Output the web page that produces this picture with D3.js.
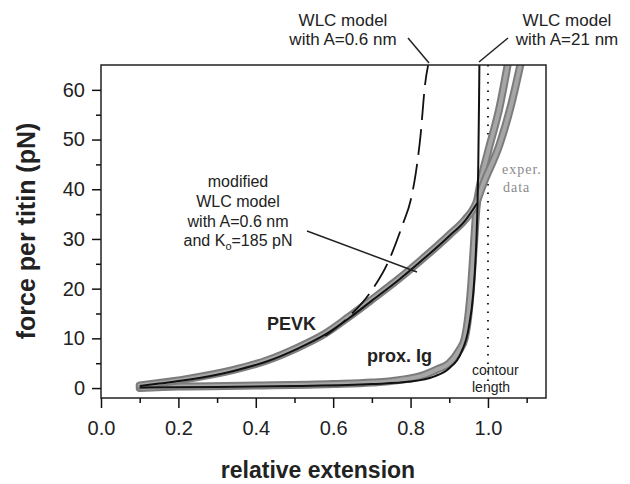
<!DOCTYPE html>
<html>
<head>
<meta charset="utf-8">
<script src="https://cdn.jsdelivr.net/npm/d3@7"></script>
<style>
  body { margin: 0; background: #fff; }
  svg text { font-family: Arial, "Liberation Sans", sans-serif; }
</style>
</head>
<body>
<div id="chart"></div>
<script>
// experimental data, PEVK segment (relative extension, force in pN)
var pevkExt   = [0.10, 0.15, 0.22, 0.34, 0.43, 0.51, 0.58, 0.64, 0.70, 0.77, 0.84, 0.90, 0.94, 0.966, 0.99, 1.03, 1.06, 1.085];
var pevkForce = [0.5, 1.0, 1.8, 3.6, 5.6, 8.2, 11.0, 14.3, 17.8, 22.0, 26.6, 30.8, 33.8, 36.6, 41.5, 49.0, 57.0, 65.5];

// experimental data, proximal Ig segment
var igExt   = [0.10, 0.20, 0.40, 0.60, 0.70, 0.77, 0.83, 0.87, 0.90, 0.925, 0.94, 0.95, 0.957, 0.963, 0.97, 0.98, 1.00, 1.03, 1.052];
var igForce = [0.0, 0.3, 0.5, 0.8, 1.1, 1.6, 2.5, 3.8, 5.0, 7.5, 10.0, 15.0, 21.0, 28.0, 36.0, 41.0, 47.5, 56.5, 65.5];

// WLC model, A = 0.6 nm (dashed)
var wlc06Ext   = [0.58, 0.64, 0.70, 0.74, 0.78, 0.80, 0.813, 0.826, 0.837, 0.848];
var wlc06Force = [10.5, 14.3, 19.7, 25.0, 33.0, 37.7, 43.0, 51.0, 60.8, 66.0];

// WLC model, A = 21 nm (thin solid)
var wlc21Ext   = [0.10, 0.30, 0.50, 0.70, 0.80, 0.86, 0.90, 0.93, 0.95, 0.962, 0.968, 0.972, 0.975, 0.977, 0.978];
var wlc21Force = [0.1, 0.2, 0.4, 0.8, 1.3, 2.3, 4.0, 7.0, 12.0, 19.0, 26.0, 34.0, 45.0, 58.0, 66.0];

// modified WLC model, A = 0.6 nm, Ko = 185 pN
var modExt   = [0.10, 0.15, 0.22, 0.34, 0.43, 0.51, 0.58, 0.64, 0.70, 0.77, 0.84, 0.90, 0.94, 0.972];
var modForce = [0.4, 0.9, 1.6, 3.4, 5.4, 8.0, 10.8, 14.0, 17.6, 21.8, 26.4, 30.6, 33.6, 37.2];

var yMajor = [0, 10, 20, 30, 40, 50, 60];
var yMinor = [5, 15, 25, 35, 45, 55];
var xMajor = [0.0, 0.2, 0.4, 0.6, 0.8, 1.0];
var xMinor = [0.1, 0.3, 0.5, 0.7, 0.9, 1.1];

var width = 630, height = 484;

var svg = d3.select("#chart").append("svg")
  .attr("width", width)
  .attr("height", height);

var x = d3.scaleLinear().domain([0, 1.15]).range([101, 546]);
var y = d3.scaleLinear().domain([-2, 65]).range([398, 65]);

function pts(xs, ys) { return xs.map(function(v, i) { return [v, ys[i]]; }); }

var line = d3.line()
  .x(function(d) { return x(d[0]); })
  .y(function(d) { return y(d[1]); })
  .curve(d3.curveMonotoneX);

svg.append("clipPath").attr("id", "plotclip")
  .append("rect")
  .attr("x", 101).attr("y", 65)
  .attr("width", 445).attr("height", 333);

var plot = svg.append("g").attr("clip-path", "url(#plotclip)");

// contour length (dotted)
plot.append("line")
  .attr("x1", x(1.0)).attr("x2", x(1.0))
  .attr("y1", y(65)).attr("y2", y(1))
  .attr("stroke", "#222")
  .attr("stroke-width", 2)
  .attr("stroke-dasharray", "1.5,7");

// experimental data as thick grey bands
[pts(igExt, igForce), pts(pevkExt, pevkForce)].forEach(function(d) {
  plot.append("path").datum(d)
    .attr("d", line)
    .attr("fill", "none")
    .attr("stroke", "#7c7c7c")
    .attr("stroke-width", 8)
    .attr("stroke-linecap", "round");
  plot.append("path").datum(d)
    .attr("d", line)
    .attr("fill", "none")
    .attr("stroke", "#a6a6a6")
    .attr("stroke-width", 4)
    .attr("stroke-linecap", "round");
});

// models
plot.append("path").datum(pts(wlc21Ext, wlc21Force))
  .attr("d", line)
  .attr("fill", "none")
  .attr("stroke", "#111")
  .attr("stroke-width", 2);

plot.append("path").datum(pts(modExt, modForce))
  .attr("d", line)
  .attr("fill", "none")
  .attr("stroke", "#111")
  .attr("stroke-width", 2);

plot.append("path").datum(pts(wlc06Ext, wlc06Force))
  .attr("d", line)
  .attr("fill", "none")
  .attr("stroke", "#111")
  .attr("stroke-width", 1.8)
  .attr("stroke-dasharray", "26,9");

// frame
svg.append("rect")
  .attr("x", 101).attr("y", 65)
  .attr("width", 445).attr("height", 333)
  .attr("fill", "none")
  .attr("stroke", "#222")
  .attr("stroke-width", 1.5);

// y axis
var yAxis = svg.append("g").attr("transform", "translate(101,0)");
yAxis.call(d3.axisLeft(y).tickValues(yMajor).tickSize(9).tickPadding(7).tickFormat(d3.format("d")));
yAxis.append("g").call(d3.axisLeft(y).tickValues(yMinor).tickSize(5).tickFormat(""));
yAxis.selectAll(".domain").remove();
yAxis.selectAll("line").attr("stroke", "#111").attr("stroke-width", 1.5);
yAxis.selectAll("text").attr("font-size", 20).attr("fill", "#222")
  .style("font-family", "Arial, 'Liberation Sans', sans-serif");

// x axis
var xAxis = svg.append("g").attr("transform", "translate(0,398)");
xAxis.call(d3.axisBottom(x).tickValues(xMajor).tickSize(10).tickPadding(13).tickFormat(d3.format(".1f")));
xAxis.append("g").call(d3.axisBottom(x).tickValues(xMinor).tickSize(5).tickFormat(""));
xAxis.selectAll(".domain").remove();
xAxis.selectAll("line").attr("stroke", "#111").attr("stroke-width", 1.5);
xAxis.selectAll("text").attr("font-size", 20).attr("fill", "#222")
  .style("font-family", "Arial, 'Liberation Sans', sans-serif");

// axis titles
svg.append("text")
  .attr("transform", "translate(35,231) rotate(-90)")
  .attr("text-anchor", "middle")
  .attr("font-size", 25).attr("font-weight", "bold").attr("fill", "#222")
  .text("force per titin (pN)");

svg.append("text")
  .attr("x", 318).attr("y", 478)
  .attr("text-anchor", "middle")
  .attr("font-size", 23).attr("font-weight", "bold").attr("fill", "#222")
  .text("relative extension");

// annotations at top
function lines(cx, ys, texts, size) {
  texts.forEach(function(t, i) {
    svg.append("text")
      .attr("x", cx).attr("y", ys[i])
      .attr("text-anchor", "middle")
      .attr("font-size", size).attr("fill", "#222")
      .text(t);
  });
}
lines(343, [26, 45], ["WLC model", "with A=0.6 nm"], 17);
lines(567, [26, 45], ["WLC model", "with A=21 nm"], 17);

svg.append("line").attr("x1", 408).attr("y1", 38).attr("x2", 429).attr("y2", 63)
  .attr("stroke", "#222").attr("stroke-width", 1.5);
svg.append("line").attr("x1", 508).attr("y1", 38).attr("x2", 479).attr("y2", 62)
  .attr("stroke", "#222").attr("stroke-width", 1.5);

// modified WLC label
lines(238, [187, 207, 227], ["modified", "WLC model", "with A=0.6 nm"], 16);
var ko = svg.append("text")
  .attr("x", 238).attr("y", 246)
  .attr("text-anchor", "middle")
  .attr("font-size", 16).attr("fill", "#222");
ko.append("tspan").text("and K");
ko.append("tspan").attr("font-size", 11).attr("dy", 4).text("o");
ko.append("tspan").attr("dy", -4).text("=185 pN");

svg.append("line").attr("x1", 307).attr("y1", 231).attr("x2", 417).attr("y2", 272)
  .attr("stroke", "#222").attr("stroke-width", 1.5);

// segment labels
svg.append("text").attr("x", 267).attr("y", 330)
  .attr("font-size", 18).attr("font-weight", "bold").attr("fill", "#222")
  .text("PEVK");
svg.append("text").attr("x", 367).attr("y", 362)
  .attr("font-size", 18).attr("font-weight", "bold").attr("fill", "#222")
  .text("prox. Ig");

// exper. data
svg.append("text").attr("x", 502).attr("y", 174)
  .attr("font-size", 14).attr("fill", "#8a8a8a").attr("letter-spacing", 1)
  .style("font-family", "'Liberation Serif', serif")
  .text("exper.");
svg.append("text").attr("x", 503).attr("y", 192)
  .attr("font-size", 14).attr("fill", "#8a8a8a").attr("letter-spacing", 1)
  .style("font-family", "'Liberation Serif', serif")
  .text("data");

// contour length
svg.append("text").attr("x", 472).attr("y", 375)
  .attr("font-size", 14).attr("fill", "#222").text("contour");
svg.append("text").attr("x", 472).attr("y", 392)
  .attr("font-size", 14).attr("fill", "#222").text("length");
</script>
</body>
</html>
